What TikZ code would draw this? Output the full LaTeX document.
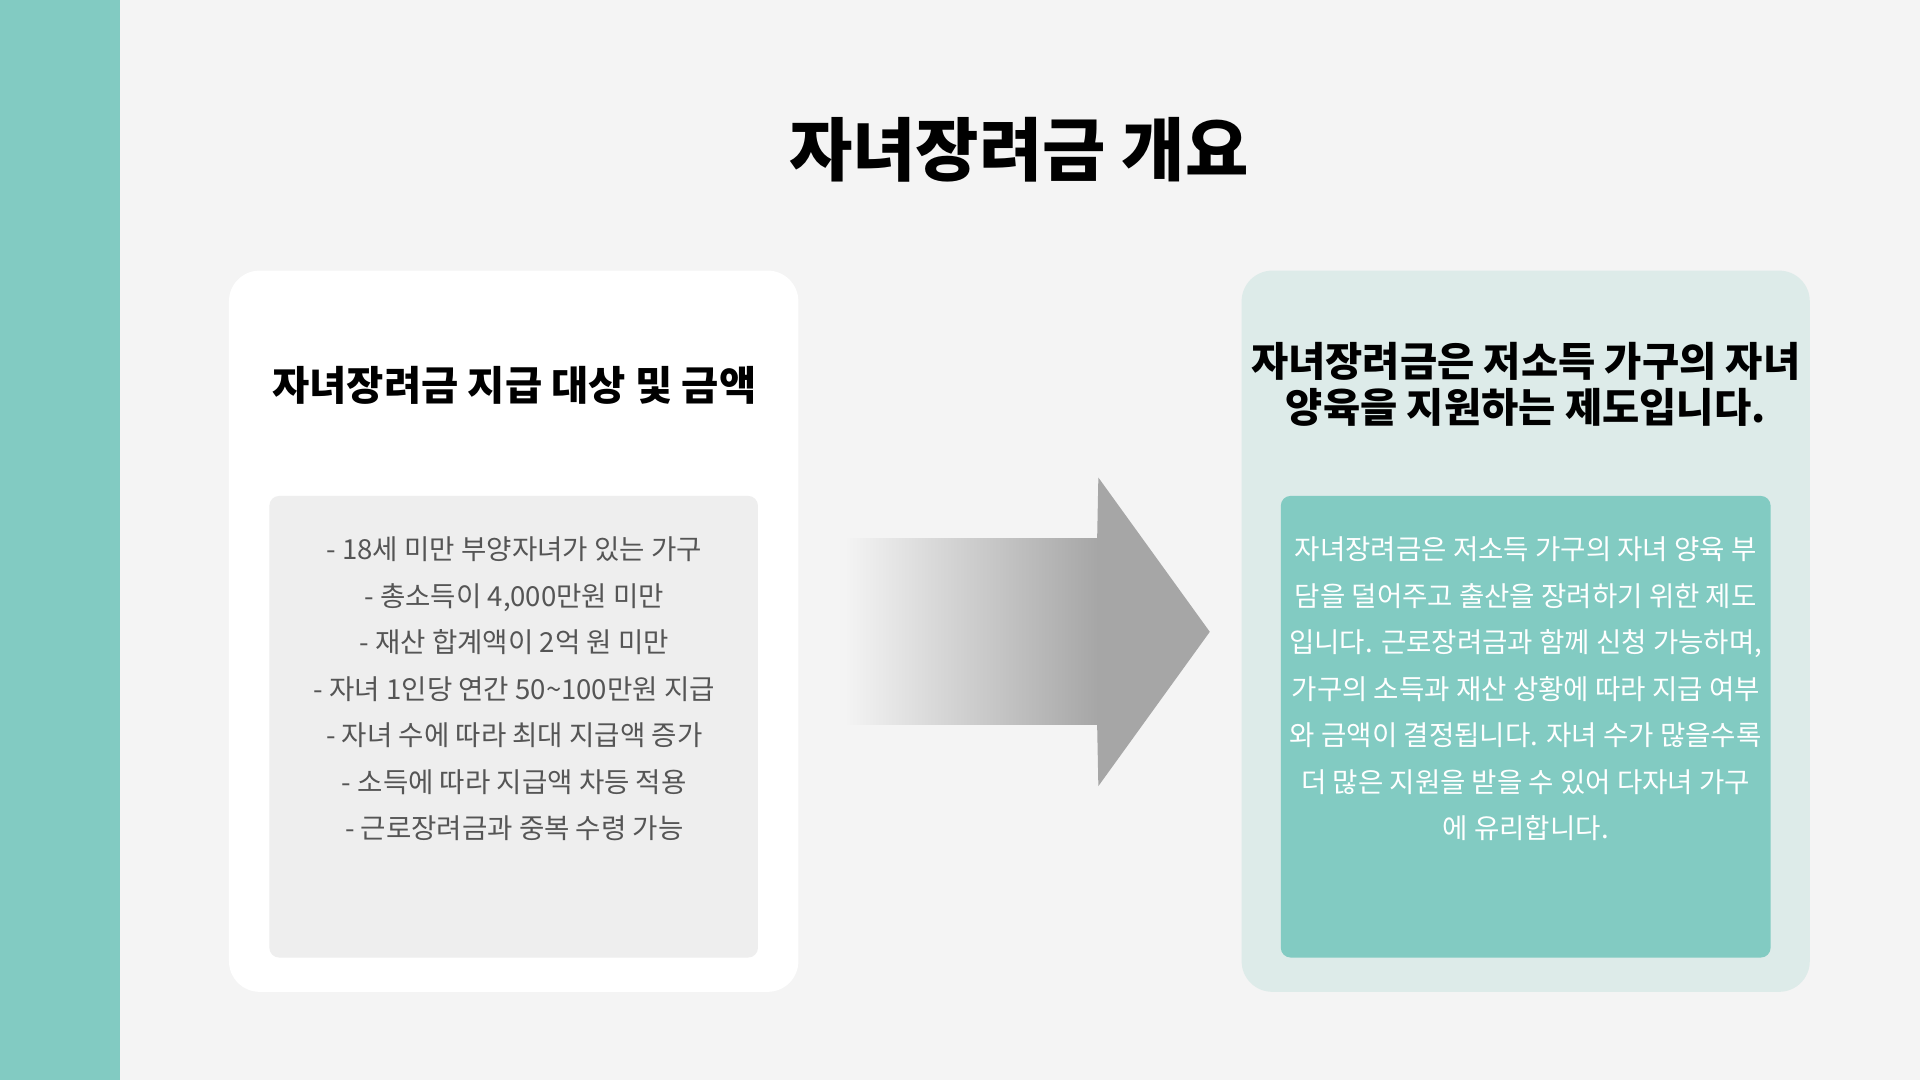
\documentclass[tikz,border=0pt]{standalone}
\usepackage{fontspec}
\setmainfont{Noto Sans CJK KR}
\usetikzlibrary{shadings}
\definecolor{bg}{HTML}{F4F4F4}
\definecolor{teal}{HTML}{82CBC2}
\definecolor{lightteal}{HTML}{DDEBE9}
\definecolor{innergray}{HTML}{EEEEEE}
\definecolor{txtgray}{HTML}{555555}
\definecolor{arrowgray}{HTML}{A6A6A6}
\tikzset{
  card/.style={rounded corners=0.25cm, draw=none},
  inner/.style={rounded corners=0.08cm, draw=none},
  body/.style={align=center, font=\fontsize{6.4pt}{10.8pt}\selectfont},
  head/.style={align=center, font=\bfseries\fontsize{9.4pt}{10.6pt}\selectfont}
}
\begin{document}
\begin{tikzpicture}[x=0.01cm,y=-0.01cm]
\useasboundingbox (0,0) rectangle (1568,882);
\fill[bg] (0,0) rectangle (1568,882);
\fill[teal] (0,0) rectangle (98,882);
\node[font=\bfseries\fontsize{16pt}{18pt}\selectfont] (title) at (832,122) {자녀장려금 개요};
% left card
\fill[white,card] (187,221) rectangle (652,810);
\node[head] (lhead) at (420,315) {자녀장려금 지급 대상 및 금액};
\fill[innergray,inner] (220,405) rectangle (619,782);
\node[body,text=txtgray,anchor=north] (lbody) at (420,426) {- 18세 미만 부양자녀가 있는 가구\\- 총소득이 4,000만원 미만\\- 재산 합계액이 2억 원 미만\\- 자녀 1인당 연간 50\textasciitilde100만원 지급\\- 자녀 수에 따라 최대 지급액 증가\\- 소득에 따라 지급액 차등 적용\\- 근로장려금과 중복 수령 가능};
% arrow
\shade[left color=bg, right color=arrowgray] (690,440) rectangle (897,592);
\fill[arrowgray] (896,440) -- (897,390) -- (988,516) -- (897,642) -- (896,592) -- cycle;
% right card
\fill[lightteal,card] (1014,221) rectangle (1478,810);
\node[head] (rhead) at (1246,314) {자녀장려금은 저소득 가구의 자녀\\양육을 지원하는 제도입니다.};
\fill[teal,inner] (1046,405) rectangle (1446,782);
\node[body,text=white,anchor=north] (rbody) at (1246,426) {자녀장려금은 저소득 가구의 자녀 양육 부\\담을 덜어주고 출산을 장려하기 위한 제도\\입니다. 근로장려금과 함께 신청 가능하며,\\가구의 소득과 재산 상황에 따라 지급 여부\\와 금액이 결정됩니다. 자녀 수가 많을수록\\더 많은 지원을 받을 수 있어 다자녀 가구\\에 유리합니다.};
\end{tikzpicture}
\end{document}
